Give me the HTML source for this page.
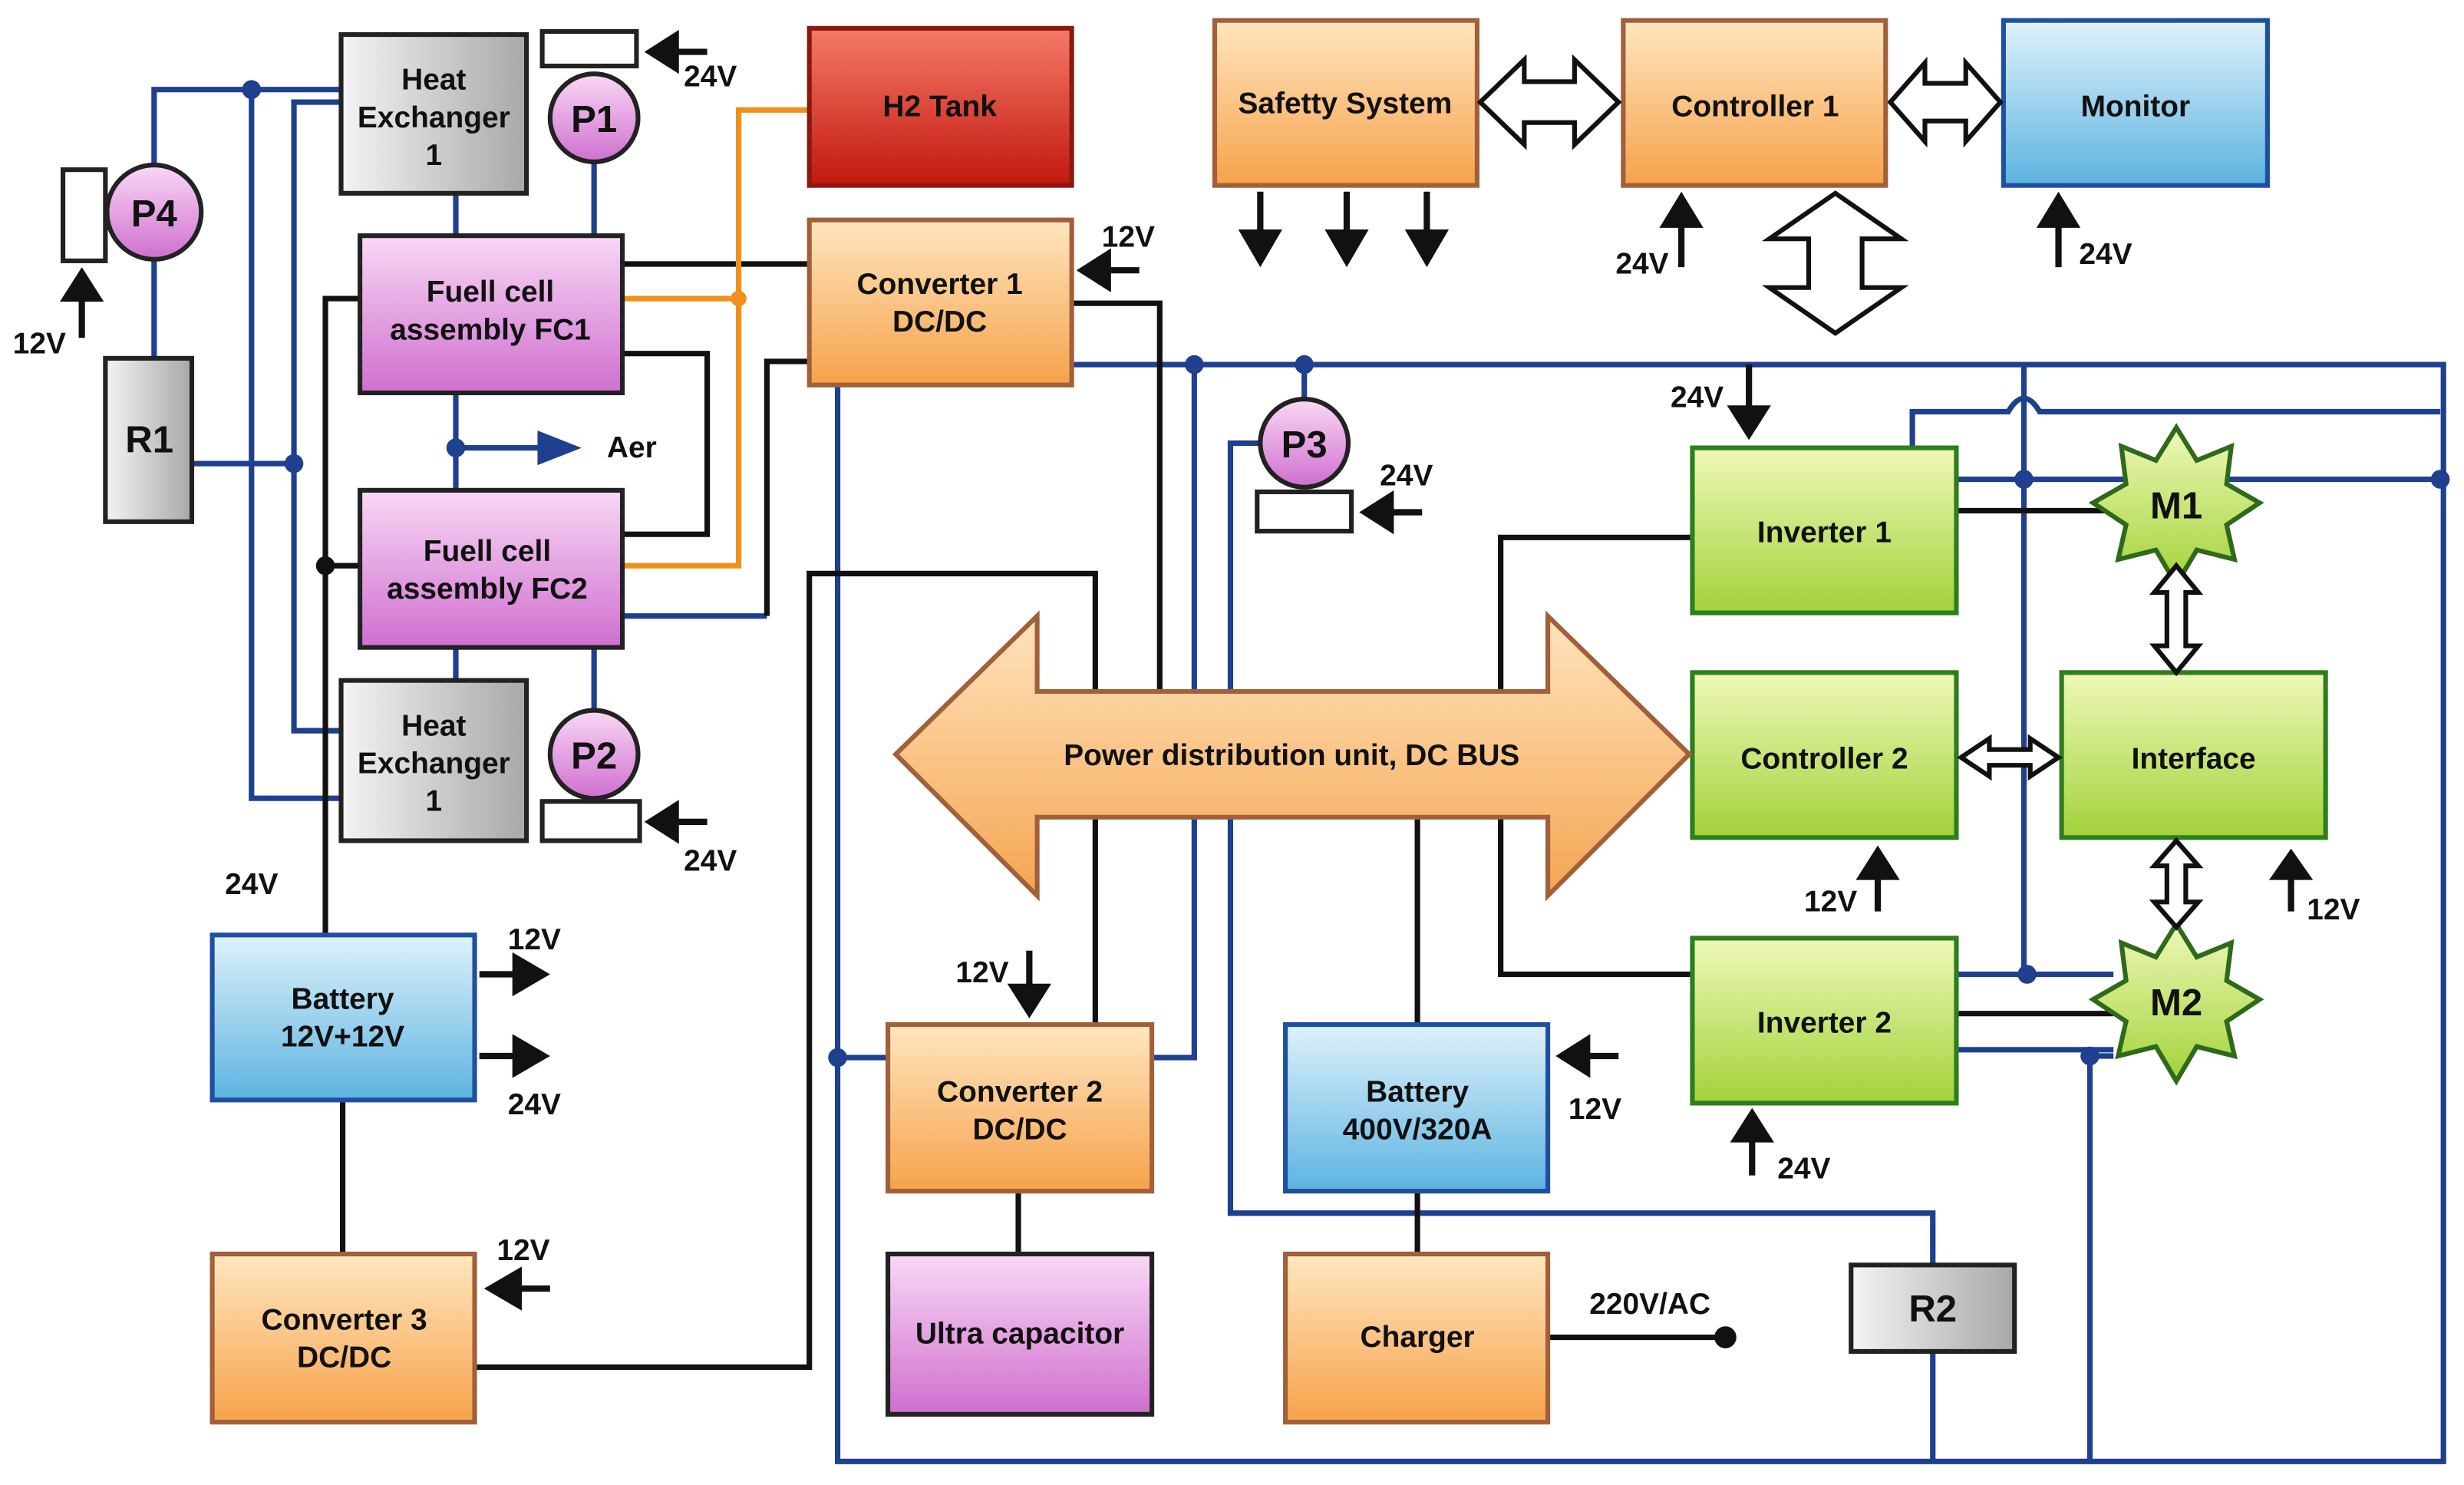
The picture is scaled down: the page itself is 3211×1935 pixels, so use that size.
<!DOCTYPE html>
<html><head><meta charset="utf-8"><style>
html,body{margin:0;padding:0;background:#fff;}
svg{display:block;}
text{font-family:"Liberation Sans",Arial,sans-serif;font-weight:bold;font-size:19px;fill:#111;text-anchor:middle;}
.lb{font-size:18px;}
</style></head><body>
<svg width="3211" height="1935" viewBox="0 0 1568 945" xmlns="http://www.w3.org/2000/svg">
<defs>
<linearGradient id="gO" x1="0" y1="0" x2="0" y2="1"><stop offset="0" stop-color="#ffe6c0"/><stop offset="1" stop-color="#f6a24a"/></linearGradient>
<linearGradient id="gP" x1="0" y1="0" x2="0" y2="1"><stop offset="0" stop-color="#f9d8f5"/><stop offset="1" stop-color="#cf6fcf"/></linearGradient>
<linearGradient id="gR" x1="0" y1="0" x2="0" y2="1"><stop offset="0" stop-color="#f57a68"/><stop offset="1" stop-color="#c2180e"/></linearGradient>
<linearGradient id="gB" x1="0" y1="0" x2="0" y2="1"><stop offset="0" stop-color="#dff2fb"/><stop offset="1" stop-color="#5cb3e0"/></linearGradient>
<linearGradient id="gG" x1="0" y1="0" x2="0" y2="1"><stop offset="0" stop-color="#eef8b8"/><stop offset="1" stop-color="#a3d23a"/></linearGradient>
<linearGradient id="gY" x1="0" y1="0" x2="1" y2="0"><stop offset="0" stop-color="#f4f4f4"/><stop offset="1" stop-color="#a8a8a8"/></linearGradient>
<linearGradient id="gA" x1="0" y1="0" x2="0" y2="1"><stop offset="0" stop-color="#ffe3bd"/><stop offset="1" stop-color="#f6a552"/></linearGradient>
</defs>
<g fill="none" stroke-width="3.5">
<g stroke="#1f3f8f">
<path d="M98,105 V57 H217"/><path d="M160,57 V508 H217"/><path d="M98,165 V228"/>
<path d="M122,295 H187"/><path d="M217,65 H187 V465 H217"/>
<path d="M290,123 V150"/><path d="M378,103 V150"/><path d="M290,250 V312"/><path d="M290,285 H345"/>
<path d="M290,412 V433"/><path d="M378,412 V452"/>
<path d="M396,392 H488"/>
<path d="M682,232 H1555 V930 H533 V245"/>
<path d="M760,232 V673 H733"/><path d="M830,232 V254"/>
<path d="M802,282 H783 V772 H1230 V805"/><path d="M1230,860 V930"/>
<path d="M533,673 H565"/>
<path d="M1245,305 H1553"/><path d="M1217,285 V262 H1278 Q1288,245 1298,262 H1553"/>
<path d="M1288,232 V620"/><path d="M1245,620 H1345"/>
<path d="M1245,668 H1345"/><path d="M1345,672 H1330 V930"/>
</g>
<g stroke="#111">
<path d="M218,700 V798"/><path d="M302,870 H515 V365 H697 V652"/>
<path d="M648,758 V798"/><path d="M902,758 V798"/><path d="M902,520 V652"/>
<path d="M1077,342 H955 V620 H1077"/>
<path d="M396,168 H515"/><path d="M682,193 H738 V440"/>
<path d="M488,392 V230 H515"/>
<path d="M396,225 H450 V340 H396"/>
<path d="M229,190 H207 V595"/><path d="M207,360 H229"/>
<path d="M1245,325 H1345"/><path d="M1245,645 H1345"/>
<path d="M985,851 H1098"/>
</g>
<g stroke="#f0901a"><path d="M515,70 H470 V360 H396"/><path d="M396,190 H470"/></g>
</g>
<g fill="#1f3f8f">
<circle cx="160" cy="57" r="6"/><circle cx="187" cy="295" r="6"/><circle cx="290" cy="285" r="6"/>
<circle cx="760" cy="232" r="6"/><circle cx="830" cy="232" r="6"/><circle cx="533" cy="673" r="6"/>
<circle cx="1553" cy="305" r="6"/><circle cx="1288" cy="305" r="6"/><circle cx="1290" cy="620" r="6"/><circle cx="1330" cy="672" r="6"/>
</g>
<circle cx="470" cy="190" r="5" fill="#f0901a"/>
<circle cx="207" cy="360" r="6" fill="#111"/><circle cx="1098" cy="851" r="7" fill="#111"/>
<polygon points="342,274 370,285 342,296" fill="#1f3f8f"/>
<text x="402" y="291">Aer</text>

<g stroke-width="3">
<rect x="217" y="22" width="118" height="101" fill="url(#gY)" stroke="#222"/>
<rect x="217" y="433" width="118" height="102" fill="url(#gY)" stroke="#222"/>
<rect x="67" y="228" width="55" height="104" fill="url(#gY)" stroke="#222"/>
<rect x="1178" y="805" width="104" height="55" fill="url(#gY)" stroke="#222"/>
<rect x="229" y="150" width="167" height="100" fill="url(#gP)" stroke="#222"/>
<rect x="229" y="312" width="167" height="100" fill="url(#gP)" stroke="#222"/>
<rect x="565" y="798" width="168" height="102" fill="url(#gP)" stroke="#222"/>
<rect x="515" y="18" width="167" height="100" fill="url(#gR)" stroke="#8a1a10"/>
<rect x="773" y="13" width="167" height="105" fill="url(#gO)" stroke="#a0603a"/>
<rect x="1033" y="13" width="167" height="105" fill="url(#gO)" stroke="#a0603a"/>
<rect x="515" y="140" width="167" height="105" fill="url(#gO)" stroke="#a0603a"/>
<rect x="565" y="652" width="168" height="106" fill="url(#gO)" stroke="#a0603a"/>
<rect x="135" y="798" width="167" height="107" fill="url(#gO)" stroke="#a0603a"/>
<rect x="818" y="798" width="167" height="107" fill="url(#gO)" stroke="#a0603a"/>
<rect x="1275" y="13" width="168" height="105" fill="url(#gB)" stroke="#1f4fa0"/>
<rect x="135" y="595" width="167" height="105" fill="url(#gB)" stroke="#1f4fa0"/>
<rect x="818" y="652" width="167" height="106" fill="url(#gB)" stroke="#1f4fa0"/>
<rect x="1077" y="285" width="168" height="105" fill="url(#gG)" stroke="#2e7d1e"/>
<rect x="1077" y="428" width="168" height="105" fill="url(#gG)" stroke="#2e7d1e"/>
<rect x="1312" y="428" width="168" height="105" fill="url(#gG)" stroke="#2e7d1e"/>
<rect x="1077" y="597" width="168" height="105" fill="url(#gG)" stroke="#2e7d1e"/>
<rect x="345" y="20" width="60" height="22" fill="#fff" stroke="#222"/>
<rect x="345" y="510" width="62" height="25" fill="#fff" stroke="#222"/>
<rect x="800" y="313" width="60" height="25" fill="#fff" stroke="#222"/>
<rect x="40" y="108" width="27" height="58" fill="#fff" stroke="#222"/>
<circle cx="378" cy="75" r="28" fill="url(#gP)" stroke="#222"/>
<circle cx="378" cy="480" r="28" fill="url(#gP)" stroke="#222"/>
<circle cx="830" cy="282" r="28" fill="url(#gP)" stroke="#222"/>
<circle cx="98" cy="135" r="30" fill="url(#gP)" stroke="#222"/>
<polygon points="570,480 660,392 660,440 985,440 985,392 1075,480 985,570 985,520 660,520 660,570" fill="url(#gA)" stroke="#a0603a"/>
<polygon fill="url(#gG)" stroke="#2e6a1a" points="1385,272 1398,293 1420,284 1417,308 1438,320 1417,334 1422,356 1398,350 1385,372 1372,350 1348,356 1353,334 1332,320 1353,308 1350,284 1372,293"/>
<polygon fill="url(#gG)" stroke="#2e6a1a" points="1385,588 1398,609 1420,600 1417,624 1438,636 1417,650 1422,672 1398,666 1385,688 1372,666 1348,672 1353,650 1332,636 1353,624 1350,600 1372,609"/>
</g>
<g fill="#fff" stroke="#111" stroke-width="3">
<polygon points="942,65 970,38 970,52 1002,52 1002,38 1030,65 1002,92 1002,78 970,78 970,92"/>
<polygon points="1203,65 1225,40 1225,53 1251,53 1251,40 1273,65 1251,90 1251,77 1225,77 1225,90"/>
<polygon points="1168,123 1210,152 1185,152 1185,183 1210,183 1168,212 1126,183 1151,183 1151,152 1126,152"/>
<polygon points="1385,360 1399,377 1391,377 1391,411 1399,411 1385,428 1371,411 1379,411 1379,377 1371,377"/>
<polygon points="1385,535 1399,551 1391,551 1391,574 1399,574 1385,590 1371,574 1379,574 1379,551 1371,551"/>
<polygon points="1248,482 1266,470 1266,477 1292,477 1292,470 1310,482 1292,494 1292,487 1266,487 1266,494"/>
</g>
<g stroke="#111" stroke-width="4" fill="#111">
<path d="M802,122 V150"/><polygon points="788,146 816,146 802,170" stroke="none"/>
<path d="M857,122 V150"/><polygon points="843,146 871,146 857,170" stroke="none"/>
<path d="M908,122 V150"/><polygon points="894,146 922,146 908,170" stroke="none"/>
<path d="M1070,170 V140"/><polygon points="1056,145 1084,145 1070,122" stroke="none"/>
<path d="M1310,170 V140"/><polygon points="1296,145 1324,145 1310,122" stroke="none"/>
<path d="M52,215 V188"/><polygon points="38,192 66,192 52,170" stroke="none"/>
<path d="M450,33 H428"/><polygon points="432,19 432,47 410,33" stroke="none"/>
<path d="M450,523 H428"/><polygon points="432,509 432,537 410,523" stroke="none"/>
<path d="M905,326 H883"/><polygon points="887,312 887,340 865,326" stroke="none"/>
<path d="M725,172 H703"/><polygon points="707,158 707,186 685,172" stroke="none"/>
<path d="M1113,232 V262"/><polygon points="1099,258 1127,258 1113,280" stroke="none"/>
<path d="M1195,580 V555"/><polygon points="1181,560 1209,560 1195,538" stroke="none"/>
<path d="M1458,580 V555"/><polygon points="1444,560 1472,560 1458,540" stroke="none"/>
<path d="M1115,748 V722"/><polygon points="1101,727 1129,727 1115,705" stroke="none"/>
<path d="M305,620 H330"/><polygon points="326,606 326,634 350,620" stroke="none"/>
<path d="M305,672 H330"/><polygon points="326,658 326,686 350,672" stroke="none"/>
<path d="M350,820 H328"/><polygon points="332,806 332,834 308,820" stroke="none"/>
<path d="M655,605 V630"/><polygon points="641,626 669,626 655,648" stroke="none"/>
<path d="M1030,672 H1008"/><polygon points="1012,658 1012,686 990,672" stroke="none"/>
</g>
<text x="276" y="57">Heat</text><text x="276" y="81">Exchanger</text><text x="276" y="105">1</text>
<text x="276" y="468">Heat</text><text x="276" y="492">Exchanger</text><text x="276" y="516">1</text>
<text x="378" y="84" style="font-size:24px">P1</text><text x="378" y="489" style="font-size:24px">P2</text>
<text x="830" y="291" style="font-size:24px">P3</text><text x="98" y="144" style="font-size:24px">P4</text>
<text x="95" y="288" style="font-size:24px">R1</text><text x="1230" y="841" style="font-size:24px">R2</text>
<text x="1385" y="330" style="font-size:24px">M1</text><text x="1385" y="646" style="font-size:24px">M2</text>
<text x="598" y="74">H2 Tank</text>
<text x="856" y="72">Safetty System</text><text x="1117" y="74">Controller 1</text><text x="1359" y="74">Monitor</text>
<text x="312" y="192">Fuell cell</text><text x="312" y="216">assembly FC1</text>
<text x="310" y="357">Fuell cell</text><text x="310" y="381">assembly FC2</text>
<text x="598" y="187">Converter 1</text><text x="598" y="211">DC/DC</text>
<text x="822" y="487">Power distribution unit, DC BUS</text>
<text x="1161" y="345">Inverter 1</text><text x="1161" y="489">Controller 2</text><text x="1396" y="489">Interface</text><text x="1161" y="657">Inverter 2</text>
<text x="218" y="642">Battery</text><text x="218" y="666">12V+12V</text>
<text x="219" y="846">Converter 3</text><text x="219" y="870">DC/DC</text>
<text x="649" y="701">Converter 2</text><text x="649" y="725">DC/DC</text>
<text x="649" y="855">Ultra capacitor</text>
<text x="902" y="701">Battery</text><text x="902" y="725">400V/320A</text>
<text x="902" y="857">Charger</text>
<g class="lb">
<text x="452" y="55">24V</text><text x="452" y="554">24V</text><text x="895" y="309">24V</text>
<text x="718" y="157">12V</text><text x="25" y="225">12V</text>
<text x="1045" y="174">24V</text><text x="1340" y="168">24V</text>
<text x="1080" y="259">24V</text><text x="1165" y="580">12V</text><text x="1485" y="585">12V</text><text x="1148" y="750">24V</text>
<text x="160" y="569">24V</text><text x="340" y="604">12V</text><text x="340" y="709">24V</text>
<text x="333" y="802">12V</text><text x="625" y="625">12V</text><text x="1015" y="712">12V</text>
<text x="1050" y="836">220V/AC</text>
</g>
</svg>
</body></html>
